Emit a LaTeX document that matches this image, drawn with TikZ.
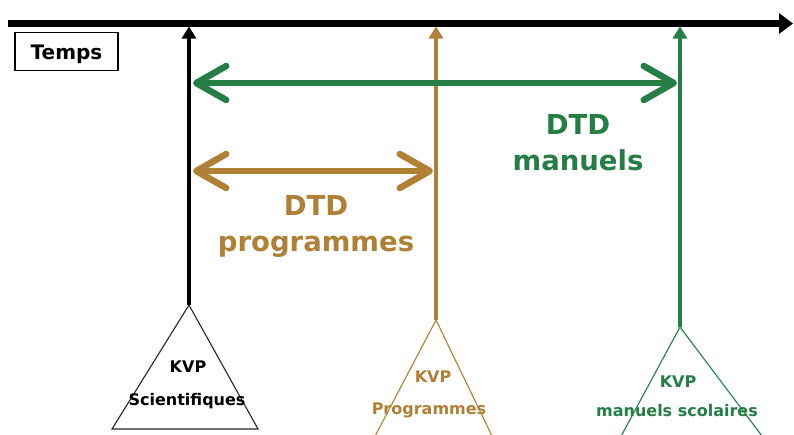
\documentclass[tikz,border=0pt]{standalone}
\usepackage{fontspec}
\setmainfont{DejaVu Sans}
\usetikzlibrary{arrows.meta}
\definecolor{brun}{RGB}{176,128,52}
\definecolor{vert}{RGB}{36,126,70}
\tikzset{
  axe/.style={line width=6.5pt,-{Triangle[length=14pt,width=20pt]}},
  jalon/.style={line width=4.5pt,-{Triangle[length=12pt,width=14pt]}},
  duree/.style={line width=6.5pt,{Straight Barb[length=30pt,width=34pt,round]}-{Straight Barb[length=30pt,width=34pt,round]}},
  tri/.style={line width=1.1pt,line join=miter},
  grand/.style={font=\fontsize{27.5}{36}\selectfont\bfseries,align=center},
  petit/.style={font=\fontsize{16}{19}\selectfont\bfseries,align=center,inner sep=0pt},
}
\begin{document}
\begin{tikzpicture}[x=1pt,y=-1pt]
\useasboundingbox (0,0) rectangle (794,434);
\clip (0,0) rectangle (794,434);
\fill[white] (0,0) rectangle (794,434);

% time axis
\coordinate (t0) at (8,23.5);
\coordinate (t1) at (793,23.5);
\draw[axe] (t0) -- (t1);
\node[draw,line width=1.3pt,minimum width=103pt,minimum height=38pt,inner sep=0pt,
      text height=16pt,text depth=0pt,
      font=\fontsize{20}{24}\selectfont\bfseries] (temps) at (66.5,51.5) {Temps};

% knowledge sources (triangles)
\coordinate (sA) at (189,305);
\coordinate (sB) at (436,320);
\coordinate (sC) at (680,327);
\draw[tri,black!85] (sA) -- (112,429) -- (258,429) -- cycle;
\draw[tri,brun] (sB) -- (373,440);
\draw[tri,brun] (sB) -- (494,440);
\draw[tri,vert] (sC) -- (619,440);
\draw[tri,vert] (sC) -- (765,440);

\node[petit,black] (kA) at (188,367) {KVP};
\node[petit,black] (nA) at (187,401) {Scientifiques};
\node[petit,brun] (kB) at (433,377) {KVP};
\node[petit,brun] (nB) at (429,410) {Programmes};
\node[petit,vert] (kC) at (678,382) {KVP};
\node[petit,vert] (nC) at (677,411) {manuels scolaires};

% milestones on the time axis
\coordinate (aA) at (189,26.5);
\coordinate (aB) at (436,26.5);
\coordinate (aC) at (680,26.5);
\draw[jalon,black] (sA) -- (aA);
\draw[jalon,brun] (sB) -- (aB);
\draw[jalon,vert] (sC) -- (aC);

% transposition delays
\coordinate (gL) at (193,83);
\coordinate (gR) at (677,83);
\draw[duree,vert] (gL) -- (gR);
\coordinate (bL) at (193,171);
\coordinate (bR) at (433,171);
\draw[duree,brun] (bL) -- (bR);

\node[grand,vert] (dm) at (578,143) {DTD\\manuels};
\node[grand,brun] (dp) at (316,226) {DTD\\programmes};
\end{tikzpicture}
\end{document}
